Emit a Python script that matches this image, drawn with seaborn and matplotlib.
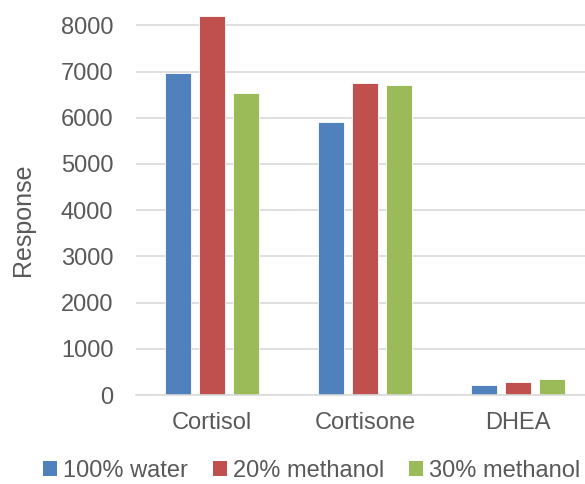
import matplotlib
matplotlib.use("Agg")
import matplotlib.pyplot as plt
import seaborn as sns
import pandas as pd

compounds = ["Cortisol", "Cortisone", "DHEA"]
series = ["100% water", "20% methanol", "30% methanol"]
water = [6960, 5900, 210]
meoh20 = [8200, 6760, 275]
meoh30 = [6530, 6720, 345]
colors = ["#4F81BD", "#C0504D", "#9BBB59"]
yticks = [0, 1000, 2000, 3000, 4000, 5000, 6000, 7000, 8000]

rows = []
for s, vals in zip(series, [water, meoh20, meoh30]):
    for c, v in zip(compounds, vals):
        rows.append({"Compound": c, "Series": s, "Response": v})
df = pd.DataFrame(rows)

sns.set_theme(style="white")
plt.rcParams["font.family"] = ["Liberation Sans", "DejaVu Sans"]
grey = "#595959"

fig = plt.figure(figsize=(5.85, 4.84), dpi=100)
ax = fig.add_axes([135.5 / 585, 89 / 484, 1 - 135.5 / 585, 395 / 484])

sns.barplot(data=df, x="Compound", y="Response", hue="Series", order=compounds,
            hue_order=series, palette=colors, width=0.667, gap=0.235,
            edgecolor="white", linewidth=0.6, saturation=1, ax=ax, legend=False)

ax.set_xlim(-0.5, 2.5 - 9.5 / 153)
ax.set_ylim(0, 395 / 46.2 * 1000)
ax.set_yticks(yticks)
ax.set_yticklabels([str(t) for t in yticks])
ax.yaxis.grid(True, color="#D9D9D9", linewidth=1.2)
ax.set_axisbelow(True)
for sp in ["top", "right", "left"]:
    ax.spines[sp].set_visible(False)
ax.spines["bottom"].set_color("#D9D9D9")
ax.spines["bottom"].set_linewidth(1.2)
ax.tick_params(axis="y", length=0, pad=16, labelsize=17, labelcolor=grey)
ax.tick_params(axis="x", length=0, pad=12, labelsize=17, labelcolor=grey)
ax.set_xlabel("")
ax.set_ylabel("Response", fontsize=18, color=grey)
ax.yaxis.set_label_coords((35 - 135.5) / 449.5, 0.443)

from matplotlib.patches import Patch
handles = [Patch(facecolor=c, edgecolor="none") for c in colors]
fig.legend(handles, series, loc="center", bbox_to_anchor=(0.533, 1 - 471 / 484),
           ncol=3, frameon=False, fontsize=17, labelcolor=grey,
           handlelength=0.6, handleheight=0.6, handletextpad=0.25,
           columnspacing=1.05, borderaxespad=0)

fig.savefig("out.png", dpi=100)
